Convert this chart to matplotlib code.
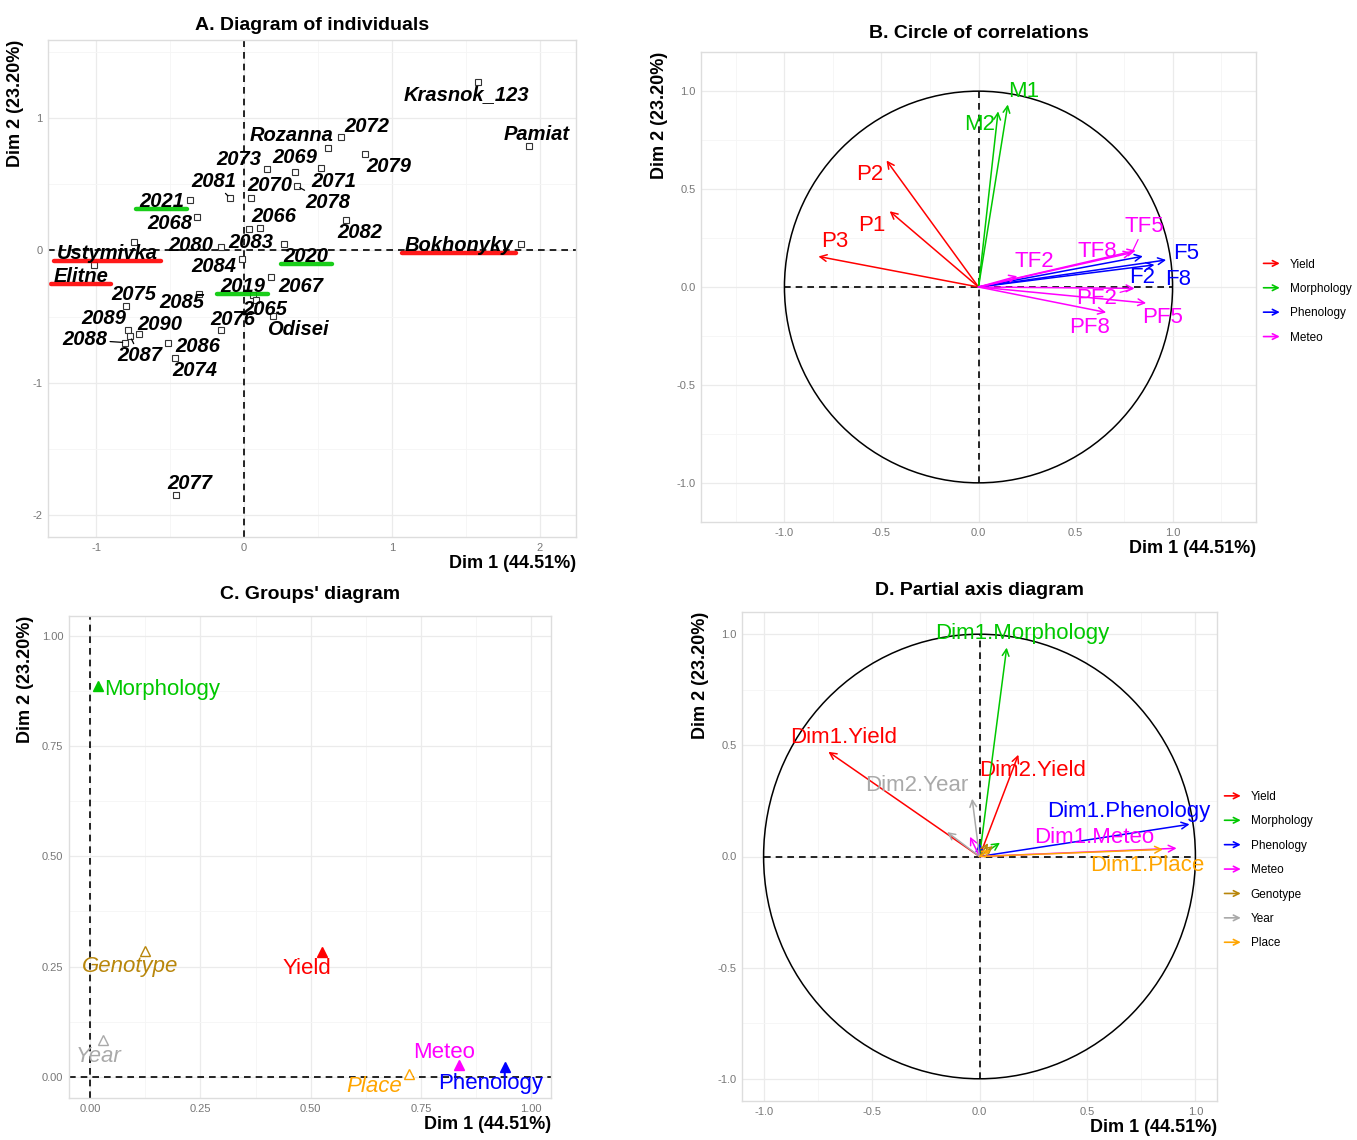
import matplotlib.pyplot as plt
import matplotlib.patches as mpatches
from matplotlib.patches import FancyArrowPatch, Circle
from matplotlib.legend_handler import HandlerPatch
from matplotlib.ticker import MultipleLocator, FormatStrFormatter

plt.rcParams['font.family'] = ['Liberation Sans', 'DejaVu Sans']
plt.rcParams['axes.unicode_minus'] = False

RED = '#FF0000'
GREEN = '#00C800'
BLUE = '#0000FF'
MAGENTA = '#FF00FF'
GOLD = '#B8860B'
GREY = '#A9A9A9'
ORANGE = '#FFA500'

# ---------------- A. individuals ----------------
ind_names = ['Krasnok_123', 'Pamiat', '2072', 'Rozanna', '2079', '2073', '2069', '2071',
             '2078', '2070', '2081', '2021', '2068', '2083', '2066', '2080', '2020', '2082',
             'Bokhonyky', 'Ustymivka', 'Elitne', '2084', '2067', '2085', '2075', '2019',
             '2065', 'Odisei', '2076', '2089', '2090', '2087', '2088', '2086', '2074', '2077']
ind_x = [1.585, 1.93, 0.655, 0.570, 0.82, 0.155, 0.347, 0.518,
         0.36, 0.044, -0.096, -0.365, -0.316, 0.031, 0.106, -0.158, 0.272, 0.69,
         1.876, -0.746, -1.018, -0.016, 0.18, -0.303, -0.80, 0.06,
         0.079, 0.194, -0.158, -0.785, -0.712, -0.77, -0.803, -0.513, -0.47, -0.461]
ind_y = [1.273, 0.787, 0.856, 0.772, 0.73, 0.615, 0.59, 0.62,
         0.484, 0.40, 0.397, 0.38, 0.253, 0.16, 0.17, 0.023, 0.05, 0.23,
         0.05, 0.063, -0.111, -0.063, -0.203, -0.329, -0.42, -0.34,
         -0.372, -0.499, -0.60, -0.60, -0.63, -0.65, -0.696, -0.70, -0.81, -1.846]
lab_x = [1.503, 1.98, 0.834, 0.321, 0.982, -0.034, 0.342, 0.606,
         0.567, 0.174, -0.207, -0.557, -0.505, 0.044, 0.20, -0.357, 0.42, 0.782,
         1.456, -0.927, -1.104, -0.202, 0.381, -0.422, -0.746, -0.008,
         0.142, 0.363, -0.073, -0.948, -0.57, -0.707, -1.078, -0.311, -0.332, -0.365]
lab_y = [1.18, 0.873, 0.937, 0.868, 0.635, 0.686, 0.704, 0.524,
         0.362, 0.489, 0.524, 0.367, 0.205, 0.063, 0.253, 0.038, -0.043, 0.139,
         0.038, -0.025, -0.20, -0.119, -0.276, -0.397, -0.334, -0.276,
         -0.443, -0.60, -0.519, -0.511, -0.562, -0.797, -0.676, -0.722, -0.904, -1.76]
leaders = ['2081', '2078', '2088', '2087']
marked = {'Ustymivka': RED, 'Elitne': RED, 'Bokhonyky': RED,
          '2021': GREEN, '2020': GREEN, '2019': GREEN}

# ---------------- B. correlation circle ----------------
var_names = ['P1', 'P2', 'P3', 'M1', 'M2', 'F2', 'F5', 'F8',
             'TF2', 'TF5', 'TF8', 'PF2', 'PF5', 'PF8']
var_group = ['Yield', 'Yield', 'Yield', 'Morphology', 'Morphology',
             'Phenology', 'Phenology', 'Phenology',
             'Meteo', 'Meteo', 'Meteo', 'Meteo', 'Meteo', 'Meteo']
var_x = [-0.458, -0.474, -0.825, 0.151, 0.101, 0.847, 0.967, 0.907,
         0.20, 0.79, 0.81, 0.804, 0.864, 0.658]
var_y = [0.387, 0.646, 0.156, 0.932, 0.897, 0.157, 0.138, 0.113,
         0.055, 0.175, 0.186, -0.007, -0.082, -0.13]
var_lx = [-0.552, -0.559, -0.74, 0.231, 0.007, 0.845, 1.07, 1.03,
          0.29, 0.855, 0.61, 0.61, 0.95, 0.57]
var_ly = [0.315, 0.572, 0.233, 1.0, 0.829, 0.05, 0.17, 0.04,
          0.128, 0.31, 0.18, -0.06, -0.155, -0.205]
var_leaders = ['TF5', 'PF2']
active_groups = ['Yield', 'Morphology', 'Phenology', 'Meteo']
group_colors = {'Yield': RED, 'Morphology': GREEN, 'Phenology': BLUE, 'Meteo': MAGENTA,
                'Genotype': GOLD, 'Year': GREY, 'Place': ORANGE}

# ---------------- C. groups ----------------
grp_names = ['Morphology', 'Genotype', 'Yield', 'Year', 'Meteo', 'Phenology', 'Place']
grp_x = [0.017, 0.124, 0.526, 0.03, 0.836, 0.941, 0.724]
grp_y = [0.886, 0.286, 0.282, 0.084, 0.027, 0.023, 0.0065]
grp_lx = [0.164, 0.0905, 0.491, 0.019, 0.802, 0.907, 0.645]
grp_ly = [0.878, 0.25, 0.246, 0.047, 0.055, -0.014, -0.022]
grp_supp = [False, True, False, True, False, False, True]

# ---------------- D. partial axes ----------------
pax_group = ['Yield', 'Yield', 'Morphology', 'Morphology', 'Phenology', 'Phenology',
             'Meteo', 'Meteo', 'Genotype', 'Genotype', 'Year', 'Year', 'Place', 'Place']
pax_label = ['Dim1.Yield', 'Dim2.Yield', 'Dim1.Morphology', '', 'Dim1.Phenology', '',
             'Dim1.Meteo', '', '', '', '', 'Dim2.Year', 'Dim1.Place', '']
pax_x = [-0.70, 0.18, 0.126, 0.095, 0.973, 0.0, 0.913, -0.044, 0.063, 0.04, -0.15, -0.034, 0.85, 0.05]
pax_y = [0.471, 0.458, 0.94, 0.062, 0.145, 0.06, 0.037, 0.089, 0.047, 0.06, 0.11, 0.26, 0.032, 0.03]
pax_lx = [-0.63, 0.246, 0.196, 0, 0.69, 0, 0.53, 0, 0, 0, 0, -0.29, 0.777, 0]
pax_ly = [0.534, 0.386, 1.005, 0, 0.204, 0, 0.085, 0, 0, 0, 0, 0.32, -0.04, 0]
pax_groups = ['Yield', 'Morphology', 'Phenology', 'Meteo', 'Genotype', 'Year', 'Place']


class ArrowKey(HandlerPatch):
    def create_artists(self, legend, orig_handle, xdescent, ydescent, width, height, fontsize, trans):
        y = height / 2 - ydescent
        a = FancyArrowPatch((-xdescent, y), (width - xdescent, y), arrowstyle='->',
                            mutation_scale=10, color=orig_handle.get_edgecolor(), lw=1.2,
                            transform=trans)
        return [a]


def style(ax, step, fmt):
    ax.xaxis.set_major_locator(MultipleLocator(step))
    ax.yaxis.set_major_locator(MultipleLocator(step))
    ax.xaxis.set_minor_locator(MultipleLocator(step / 2))
    ax.yaxis.set_minor_locator(MultipleLocator(step / 2))
    ax.xaxis.set_major_formatter(FormatStrFormatter(fmt))
    ax.yaxis.set_major_formatter(FormatStrFormatter(fmt))
    ax.grid(which='major', color='#EBEBEB', lw=0.9)
    ax.grid(which='minor', color='#F5F5F5', lw=0.6)
    ax.set_axisbelow(True)
    ax.tick_params(which='both', length=0, labelsize=8, labelcolor='#777777', pad=4)
    for s in ax.spines.values():
        s.set_color('#DDDDDD')
        s.set_linewidth(1.0)
    ax.set_xlabel('Dim 1 (44.51%)', loc='right', fontweight='bold', fontsize=13, labelpad=2)
    ax.set_ylabel('Dim 2 (23.20%)', loc='top', fontweight='bold', fontsize=13, labelpad=6)


def arrow(ax, x, y, c):
    ax.annotate('', xy=(x, y), xytext=(0, 0),
                arrowprops=dict(arrowstyle='->', color=c, lw=1.1, shrinkA=0, shrinkB=0,
                                mutation_scale=12))


def arrow_legend(ax, groups, ypos):
    handles = [mpatches.Patch(edgecolor=group_colors[g], facecolor='none', label=g) for g in groups]
    ax.legend(handles=handles, handler_map={mpatches.Patch: ArrowKey()}, loc='center left',
              bbox_to_anchor=(1.0, ypos), frameon=False, fontsize=8.5, handlelength=1.85,
              labelspacing=1.05, handletextpad=0.6, borderaxespad=0.0)


W, H = 1357, 1140
fig = plt.figure(figsize=(W / 100, H / 100), dpi=100)

# ---- A ----
axA = fig.add_axes([48 / W, 1 - 537 / H, 528 / W, 497 / H])
style(axA, 1, '%d')
axA.set_xlim(-1.327, 2.247)
axA.set_ylim(-2.165, 1.59)
axA.axhline(0, color='black', ls='--', lw=1.2, dashes=(4, 3))
axA.axvline(0, color='black', ls='--', lw=1.2, dashes=(4, 3))
axA.plot(ind_x, ind_y, ls='none', marker='s', ms=4.5, mfc='white', mec='#333333', mew=0.8)
txts = {}
for i, n in enumerate(ind_names):
    if n in leaders:
        axA.annotate(n, xy=(ind_x[i], ind_y[i]), xytext=(lab_x[i], lab_y[i]),
                     ha='center', va='center', fontsize=14.5, fontweight='bold', style='italic',
                     arrowprops=dict(arrowstyle='-', color='black', lw=0.9, shrinkA=0, shrinkB=2))
    else:
        txts[n] = axA.text(lab_x[i], lab_y[i], n, ha='center', va='center', fontsize=14.5,
                           fontweight='bold', style='italic')
axA.set_title('A. Diagram of individuals', fontweight='bold', fontsize=14, pad=7)

# ---- B ----
axB = fig.add_axes([701 / W, 1 - 522 / H, 555 / W, 470 / H])
style(axB, 0.5, '%.1f')
axB.set_xlim(-1.43, 1.43)
axB.set_ylim(-1.2, 1.2)
axB.add_patch(Circle((0, 0), 1, fill=False, ec='black', lw=1.1))
axB.plot([-1, 1], [0, 0], color='black', ls='--', lw=1.2, dashes=(4, 3))
axB.plot([0, 0], [-1, 1], color='black', ls='--', lw=1.2, dashes=(4, 3))
for i, n in enumerate(var_names):
    c = group_colors[var_group[i]]
    arrow(axB, var_x[i], var_y[i], c)
    if n in var_leaders:
        axB.annotate(n, xy=(var_x[i], var_y[i]), xytext=(var_lx[i], var_ly[i]), color=c,
                     ha='center', va='center', fontsize=16,
                     arrowprops=dict(arrowstyle='-', color=c, lw=0.9, shrinkA=0, shrinkB=2))
    else:
        axB.text(var_lx[i], var_ly[i], n, color=c, ha='center', va='center', fontsize=16)
axB.set_title('B. Circle of correlations', fontweight='bold', fontsize=14, pad=10)
arrow_legend(axB, active_groups, 0.47)

# ---- C ----
axC = fig.add_axes([69 / W, 1 - 1098 / H, 482 / W, 482 / H])
style(axC, 0.25, '%.2f')
axC.set_xlim(-0.048, 1.045)
axC.set_ylim(-0.048, 1.045)
axC.axhline(0, color='black', ls='--', lw=1.2, dashes=(4, 3))
axC.axvline(0, color='black', ls='--', lw=1.2, dashes=(4, 3))
for i, n in enumerate(grp_names):
    c = group_colors[n]
    axC.plot(grp_x[i], grp_y[i], marker='^', ms=6.5, ls='none', mec=c,
             mfc='white' if grp_supp[i] else c, mew=1.0)
    axC.text(grp_lx[i], grp_ly[i], n, color=c, ha='center', va='center', fontsize=16,
             style='italic' if grp_supp[i] else 'normal')
axC.set_title("C. Groups' diagram", fontweight='bold', fontsize=14, pad=12)

# ---- D ----
axD = fig.add_axes([742 / W, 1 - 1101 / H, 475 / W, 489 / H])
style(axD, 0.5, '%.1f')
axD.set_xlim(-1.1, 1.1)
axD.set_ylim(-1.1, 1.1)
axD.add_patch(Circle((0, 0), 1, fill=False, ec='black', lw=1.1))
axD.plot([-1, 1], [0, 0], color='black', ls='--', lw=1.2, dashes=(4, 3))
axD.plot([0, 0], [-1, 1], color='black', ls='--', lw=1.2, dashes=(4, 3))
for i, g in enumerate(pax_group):
    c = group_colors[g]
    arrow(axD, pax_x[i], pax_y[i], c)
    if pax_label[i]:
        axD.text(pax_lx[i], pax_ly[i], pax_label[i], color=c, ha='center', va='center', fontsize=16)
axD.set_title('D. Partial axis diagram', fontweight='bold', fontsize=14, pad=12)
arrow_legend(axD, pax_groups, 0.472)

# underline highlighted cultivars in panel A
fig.canvas.draw()
r = fig.canvas.get_renderer()
inv = axA.transData.inverted()
for n, c in marked.items():
    bb = txts[n].get_window_extent(r)
    (x0, y0), (x1, _) = inv.transform([(bb.x0 - 3, bb.y0 + 2), (bb.x1 + 3, bb.y0 + 2)])
    axA.plot([x0, x1], [y0, y0], color=c, lw=3.2, solid_capstyle='round', alpha=0.9)

fig.savefig('out.png', dpi=100)
